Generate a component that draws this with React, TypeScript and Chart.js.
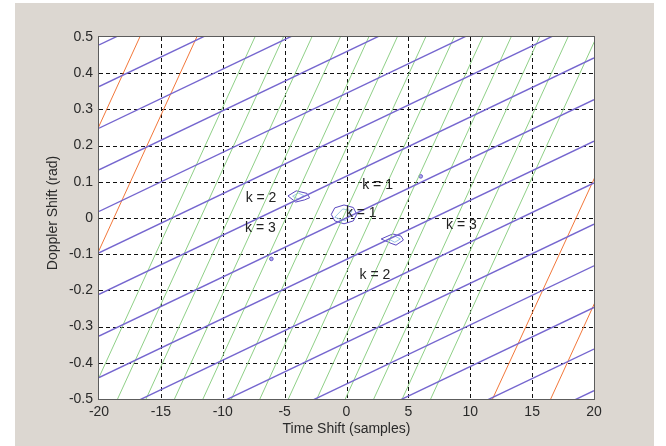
import React, { useEffect, useRef } from 'react';
import { Chart, registerables } from 'chart.js';

Chart.register(...registerables);

// ---- axes ----
const xTicks = [-20, -15, -10, -5, 0, 5, 10, 15, 20];
const xTickLabels = ['-20', '-15', '-10', '-5', '0', '5', '10', '15', '20'];
const yTicks = [-0.5, -0.4, -0.3, -0.2, -0.1, 0, 0.1, 0.2, 0.3, 0.4, 0.5];
const yTickLabels = ['-0.5', '-0.4', '-0.3', '-0.2', '-0.1', '0', '0.1', '0.2', '0.3', '0.4', '0.5'];
const xTitle = 'Time Shift (samples)';
const yTitle = 'Doppler Shift (rad)';

// ---- purple ridges (shallow): y at x = -20 and y at x = 20 ----
const purpleLeftY = [0.478, 0.363, 0.248, 0.133, 0.018, -0.096, -0.211, -0.326, -0.441, -0.556, -0.67, -0.785, -0.9, -1.015, -1.13];
const purpleRightY = [1.131, 1.016, 0.901, 0.786, 0.671, 0.557, 0.442, 0.327, 0.212, 0.097, -0.017, -0.132, -0.247, -0.362, -0.477];

// ---- green ridges (steep): x at y = -0.5 and x at y = 0.5 ----
const greenBottomX = [-20.8, -18.5, -16.2, -13.9, -11.6, -9.3, -7.0, -4.7, -2.4, -0.1, 2.2, 4.5, 6.8];
const greenTopX = [-7.4, -5.1, -2.8, -0.5, 1.8, 4.1, 6.4, 8.7, 11.0, 13.3, 15.6, 17.9, 20.2];

// ---- orange ridges (steep, outer) ----
const orangeBottomX = [-30.1, -25.5, 11.8, 16.5];
const orangeTopX = [-16.7, -12.1, 25.3, 29.9];

// ---- small contour blobs ----
const blobLeftOuter = [[-4.73, 0.061], [-4.06, 0.075], [-3.2, 0.068], [-2.98, 0.056], [-3.39, 0.05], [-4.11, 0.044], [-4.73, 0.061]];
const blobLeftInner = [[-4.35, 0.06], [-3.9, 0.069], [-3.45, 0.062], [-3.9, 0.052], [-4.35, 0.06]];
const blobCenterOuter = [[0.83, 0.01], [0.55, 0.029], [-0.2, 0.036], [-0.95, 0.028], [-1.23, 0.01], [-0.95, -0.008], [-0.2, -0.016], [0.55, -0.008], [0.83, 0.01]];
const blobCenterInner = [[-0.95, 0.002], [-0.3, 0.025], [0.45, 0.02], [-0.1, -0.008], [-0.95, 0.002]];
const blobRightOuter = [[2.8, -0.058], [3.73, -0.044], [4.41, -0.05], [4.6, -0.061], [4.0, -0.075], [3.6, -0.07], [2.8, -0.058]];
const blobRightInner = [[3.4, -0.058], [3.9, -0.05], [4.35, -0.058], [3.9, -0.067], [3.4, -0.058]];
const dotX = [6.0, -6.07];
const dotY = [0.115, -0.113];

// ---- text annotations ----
const annotTexts = ['k = 2', 'k = 3', 'k = 1', 'k = 1', 'k = 3', 'k = 2'];
const annotX = [-8.15, -8.2, 1.27, -0.05, 8.05, 1.05];
const annotY = [0.056, -0.028, 0.091, 0.013, -0.021, -0.157];

const PURPLE = '#7566cf';
const GREEN = '#8fd087';
const ORANGE = '#f2773a';
const FONT = '"Liberation Sans", Arial, sans-serif';

export default function App() {
  const ref = useRef<HTMLCanvasElement | null>(null);

  useEffect(() => {
    const canvas = ref.current;
    if (!canvas) return;

    const datasets: any[] = [];
    purpleLeftY.forEach((yl, i) => {
      datasets.push({
        data: [{ x: -20, y: yl }, { x: 20, y: purpleRightY[i] }],
        borderColor: PURPLE, borderWidth: 1.4, pointRadius: 0, showLine: true, clip: 0,
      });
    });
    greenBottomX.forEach((xb, i) => {
      datasets.push({
        data: [{ x: xb, y: -0.5 }, { x: greenTopX[i], y: 0.5 }],
        borderColor: GREEN, borderWidth: 1, pointRadius: 0, showLine: true, clip: 0,
      });
    });
    orangeBottomX.forEach((xb, i) => {
      datasets.push({
        data: [{ x: xb, y: -0.5 }, { x: orangeTopX[i], y: 0.5 }],
        borderColor: ORANGE, borderWidth: 1, pointRadius: 0, showLine: true, clip: 0,
      });
    });
    const blob = (pts: number[][], color: string, w: number) => ({
      data: pts.map((p) => ({ x: p[0], y: p[1] })),
      borderColor: color, borderWidth: w, pointRadius: 0, showLine: true, clip: 0, tension: 0,
    });
    datasets.push(blob(blobLeftOuter, '#5a48c0', 1));
    datasets.push(blob(blobLeftInner, '#9cc6e6', 1));
    datasets.push(blob(blobCenterOuter, '#5a48c0', 1));
    datasets.push(blob(blobCenterInner, '#9cc6e6', 1));
    datasets.push(blob(blobRightOuter, '#5a48c0', 1));
    datasets.push(blob(blobRightInner, '#9cc6e6', 1));
    datasets.push({
      data: dotX.map((x, i) => ({ x, y: dotY[i] })),
      showLine: false, pointRadius: 1.8, pointBorderColor: '#6a5acd', pointBackgroundColor: '#b0a8e8', pointBorderWidth: 1,
    });

    const decor = {
      id: 'decor',
      beforeDraw(chart: any) {
        const { ctx, chartArea: a } = chart;
        ctx.save();
        ctx.fillStyle = '#ffffff';
        ctx.fillRect(0, 0, chart.width, chart.height);
        ctx.fillStyle = '#dcd7d1';
        ctx.fillRect(15, 3, 639, chart.height - 3);
        ctx.fillStyle = '#ffffff';
        ctx.fillRect(a.left, a.top, a.right - a.left, a.bottom - a.top);
        ctx.restore();
      },
      beforeDatasetsDraw(chart: any) {
        const { ctx, chartArea: a, scales } = chart;
        ctx.save();
        ctx.strokeStyle = '#111111';
        ctx.lineWidth = 1;
        ctx.setLineDash([4, 3]);
        xTicks.slice(1, -1).forEach((v) => {
          const px = Math.round(scales.x.getPixelForValue(v)) + 0.5;
          ctx.beginPath();
          ctx.moveTo(px, a.top);
          ctx.lineTo(px, a.bottom);
          ctx.stroke();
        });
        yTicks.slice(1, -1).forEach((v) => {
          const py = Math.round(scales.y.getPixelForValue(v)) + 0.5;
          ctx.beginPath();
          ctx.moveTo(a.left, py);
          ctx.lineTo(a.right, py);
          ctx.stroke();
        });
        ctx.restore();
      },
      afterDatasetsDraw(chart: any) {
        const { ctx, chartArea: a, scales } = chart;
        ctx.save();
        ctx.strokeStyle = '#5c5c5c';
        ctx.lineWidth = 1;
        ctx.strokeRect(Math.round(a.left) - 0.5, Math.round(a.top) - 0.5, Math.round(a.right - a.left) + 1, Math.round(a.bottom - a.top) + 1);
        ctx.fillStyle = '#222222';
        ctx.font = `14px ${FONT}`;
        ctx.textAlign = 'left';
        ctx.textBaseline = 'middle';
        annotTexts.forEach((t, i) => {
          ctx.fillText(t, scales.x.getPixelForValue(annotX[i]), scales.y.getPixelForValue(annotY[i]));
        });
        ctx.textAlign = 'center';
        ctx.fillStyle = '#2a2a2a';
        ctx.fillText(xTitle, (a.left + a.right) / 2, 429);
        ctx.translate(53, (a.top + a.bottom) / 2 - 5);
        ctx.rotate(-Math.PI / 2);
        ctx.fillText(yTitle, 0, 0);
        ctx.restore();
      },
    };

    const chart = new Chart(canvas, {
      type: 'scatter',
      data: { datasets },
      options: {
        responsive: false,
        devicePixelRatio: 1,
        animation: false,
        events: [],
        layout: { padding: { left: 0, top: 37, right: 72, bottom: 0 } },
        plugins: { legend: { display: false }, tooltip: { enabled: false } },
        scales: {
          x: {
            type: 'linear', min: -20, max: 20,
            afterBuildTicks: (s: any) => { s.ticks = xTicks.map((v) => ({ value: v })); },
            afterFit: (s: any) => { s.height = 47; },
            grid: { display: false, drawTicks: false },
            border: { display: false },
            ticks: {
              autoSkip: false, maxRotation: 0, padding: 5, color: '#2a2a2a',
              font: { family: FONT, size: 14 },
              callback: (_v: any, i: number) => xTickLabels[i],
            },
          },
          y: {
            type: 'linear', min: -0.5, max: 0.5,
            afterBuildTicks: (s: any) => { s.ticks = yTicks.map((v) => ({ value: v })); },
            afterFit: (s: any) => { s.width = 99; },
            grid: { display: false, drawTicks: false },
            border: { display: false },
            ticks: {
              autoSkip: false, padding: 6, color: '#2a2a2a',
              font: { family: FONT, size: 14 },
              callback: (_v: any, i: number) => yTickLabels[i],
            },
          },
        },
      },
      plugins: [decor],
    });
    return () => chart.destroy();
  }, []);

  return (
    <div style={{ position: 'absolute', left: 0, top: 0, width: 666, height: 446 }}>
      <canvas ref={ref} width={666} height={446} style={{ display: 'block', width: 666, height: 446 }} />
    </div>
  );
}
